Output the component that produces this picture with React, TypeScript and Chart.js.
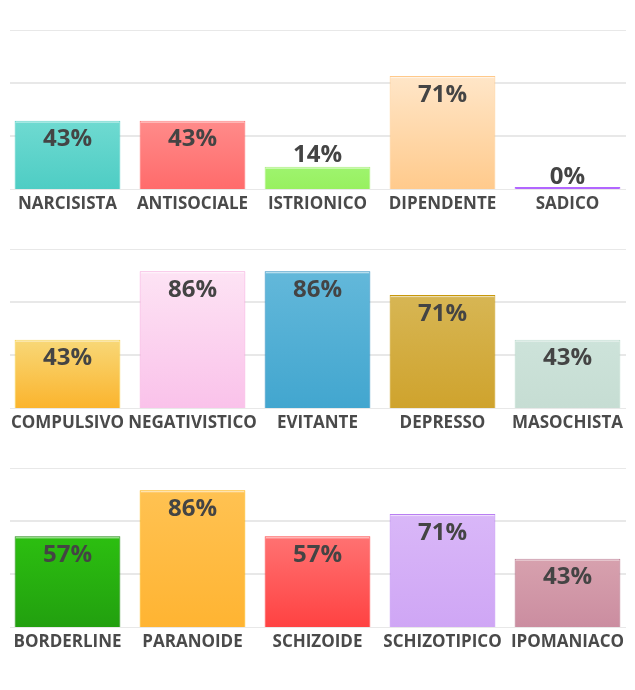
import React, { useEffect, useRef } from "react";
import { Chart, registerables } from "chart.js";

Chart.register(...registerables);

const LABELS_1 = ["NARCISISTA", "ANTISOCIALE", "ISTRIONICO", "DIPENDENTE", "SADICO"];
const VALUES_1 = [43, 43, 14, 71, 0];
const TOPS_1 = ["#6fdad1", "#ff8b8a", "#9ef46e", "#ffe6c8", "#b266ff"];
const BOTTOMS_1 = ["#4ecdc4", "#ff6b6b", "#98f060", "#ffca8c", "#b266ff"];
const BORDERS_1 = ["#4ecdc4", "#ff6b6b", "#a8f07c", "#ffc98a", "#b266ff"];

const LABELS_2 = ["COMPULSIVO", "NEGATIVISTICO", "EVITANTE", "DEPRESSO", "MASOCHISTA"];
const VALUES_2 = [43, 86, 86, 71, 43];
const TOPS_2 = ["#f8d878", "#fde3f4", "#63b8da", "#d7b654", "#cde3da"];
const BOTTOMS_2 = ["#fbb42d", "#fac2ea", "#42a6cf", "#cfa32d", "#c6ddd3"];
const BORDERS_2 = ["#f5cf40", "#f5a6dc", "#2a8cc0", "#c8980c", "#b8d8cb"];

const LABELS_3 = ["BORDERLINE", "PARANOIDE", "SCHIZOIDE", "SCHIZOTIPICO", "IPOMANIACO"];
const VALUES_3 = [57, 86, 57, 71, 43];
const TOPS_3 = ["#2cbf10", "#ffc252", "#ff7272", "#d9b7f8", "#d7a1ae"];
const BOTTOMS_3 = ["#22a00f", "#ffb432", "#ff4242", "#cfa6f5", "#cb8da0"];
const BORDERS_3 = ["#1f8a10", "#ffb000", "#ff4444", "#b97ef2", "#b47289"];

const Y_MAX = 100;
const Y_STEP = 100 / 3;

const overlay = {
  id: "overlay",
  beforeDatasetsDraw(chart: any) {
    const { ctx, chartArea } = chart;
    const y = chart.scales.y;
    ctx.save();
    ctx.strokeStyle = "#e8e8e8";
    const n = y.ticks.length;
    y.ticks.forEach((t: any, i: number) => {
      const py = Math.round(y.getPixelForValue(t.value));
      const edge = i === 0 || i === n - 1;
      ctx.lineWidth = edge ? 1 : 2;
      const yy = edge ? py + 0.5 : py;
      ctx.beginPath();
      ctx.moveTo(chartArea.left + 5, yy);
      ctx.lineTo(chartArea.right - 4, yy);
      ctx.stroke();
    });
    ctx.restore();
  },
  afterDatasetsDraw(chart: any) {
    const { ctx } = chart;
    const ys = chart.scales.y;
    const meta = chart.getDatasetMeta(0);
    const ds = chart.data.datasets[0];
    ctx.save();
    meta.data.forEach((bar: any, i: number) => {
      const { x, base, width } = bar.getProps(["x", "base", "width"], true);
      const v = ds.data[i];
      const top = ys.getPixelForValue(v);
      const h = base - top;
      if (h > 4) {
        ctx.fillStyle = "rgba(255,255,255,0.6)";
        ctx.fillRect(x - width / 2 + 1, top + 1, width - 2, 1);
      }
      ctx.font = 'bold 24px "Open Sans"';
      ctx.fillStyle = "#444444";
      ctx.textAlign = "center";
      ctx.textBaseline = "middle";
      const ly = h > 34 ? top + 19 : top - 12;
      ctx.fillText(v + "%", x, ly);
    });
    ctx.restore();
  },
};

function Panel({ labels, values, tops, bottoms, borders, top }: any) {
  const ref = useRef<HTMLCanvasElement | null>(null);
  useEffect(() => {
    if (!ref.current) return;
    const chart = new Chart(ref.current, {
      type: "bar",
      data: {
        labels,
        datasets: [
          {
            data: values,
            backgroundColor: (c: any) => {
              const ch = c.chart;
              const i = c.dataIndex;
              if (!ch.chartArea || i === undefined) return bottoms[i ?? 0];
              const ys = ch.scales.y;
              const t = ys.getPixelForValue(values[i]);
              const b = ys.getPixelForValue(0);
              if (!isFinite(t) || !isFinite(b) || b - t < 1) return bottoms[i];
              const g = ch.ctx.createLinearGradient(0, t, 0, b);
              g.addColorStop(0, tops[i]);
              g.addColorStop(1, bottoms[i]);
              return g;
            },
            borderColor: borders,
            borderWidth: 1,
            minBarLength: 2,
            categoryPercentage: 1,
            barPercentage: 0.846,
          },
        ],
      },
      options: {
        animation: false,
        responsive: true,
        maintainAspectRatio: false,
        layout: { padding: { top: 30, left: 5, right: 5, bottom: 0 } },
        plugins: { legend: { display: false }, tooltip: { enabled: false } },
        scales: {
          x: {
            grid: { display: false, drawTicks: false },
            border: { display: false },
            ticks: {
              autoSkip: false,
              maxRotation: 0,
              padding: 5,
              color: "#4a4a4a",
              font: { family: "'Open Sans'", weight: "bold", size: 17 },
            },
            afterFit: (s: any) => {
              s.height = 30;
            },
          },
          y: {
            min: 0,
            max: Y_MAX,
            ticks: { stepSize: Y_STEP, display: false },
            grid: { display: false, drawTicks: false },
            border: { display: false },
            afterFit: (s: any) => {
              s.width = 0;
            },
          },
        },
      },
      plugins: [overlay],
    } as any);
    return () => chart.destroy();
  }, []);
  return (
    <div style={{ position: "absolute", left: 0, top, width: 635, height: 219 }}>
      <canvas ref={ref} />
    </div>
  );
}

export default function App() {
  return (
    <div style={{ position: "absolute", left: 0, top: 0, width: 635, height: 690, background: "#fff" }}>
      <Panel labels={LABELS_1} values={VALUES_1} tops={TOPS_1} bottoms={BOTTOMS_1} borders={BORDERS_1} top={0} />
      <Panel labels={LABELS_2} values={VALUES_2} tops={TOPS_2} bottoms={BOTTOMS_2} borders={BORDERS_2} top={219} />
      <Panel labels={LABELS_3} values={VALUES_3} tops={TOPS_3} bottoms={BOTTOMS_3} borders={BORDERS_3} top={438} />
    </div>
  );
}
